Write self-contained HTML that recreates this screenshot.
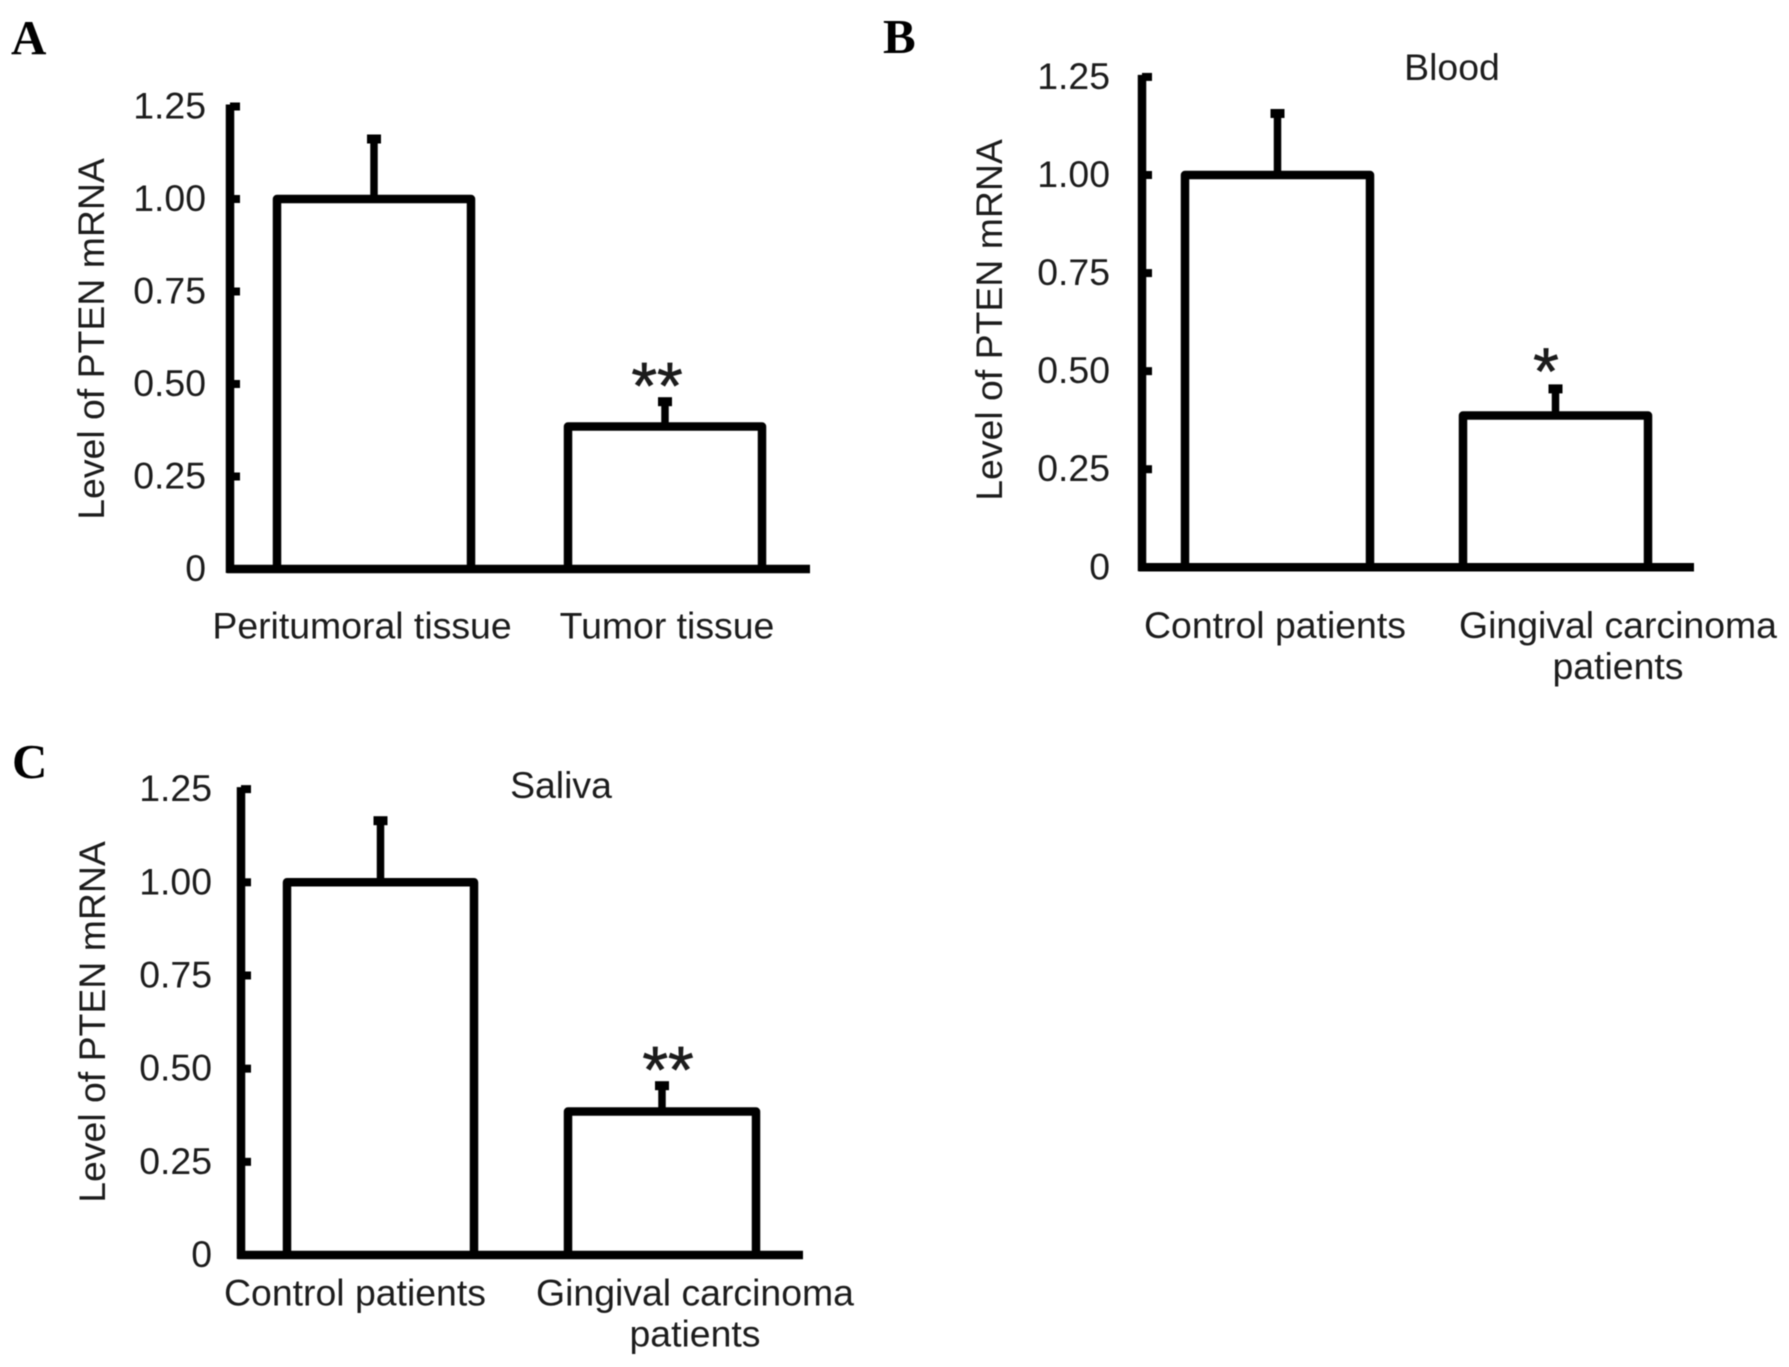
<!DOCTYPE html>
<html>
<head>
<meta charset="utf-8">
<title>Level of PTEN mRNA</title>
<style>
html,body{margin:0;padding:0;background:#fff;}
svg{display:block;}
text{font-family:"Liberation Sans",sans-serif;fill:#1c1c1c;font-size:37.4px;}
.letter{font-family:"Liberation Serif",serif;font-weight:bold;font-size:49px;fill:#000;}
.star{font-size:66px;stroke:#1c1c1c;stroke-width:0.7px;}
</style>
</head>
<body>
<svg id="fig" width="1789" height="1367" viewBox="0 0 1789 1367" xmlns="http://www.w3.org/2000/svg">
<g style="filter:blur(0.6px)" id="root"></g>
</svg>
<script>
const tickValues = [0, 0.25, 0.5, 0.75, 1, 1.25];
const tickLabels = ["0", "0.25", "0.50", "0.75", "1.00", "1.25"];
const yAxisTitle = "Level of PTEN mRNA";

const categoriesA = ["Peritumoral tissue", "Tumor tissue"];
const valuesA = [1.0, 0.385];
const errorsA = [0.173, 0.078];
const starsA = ["", "**"];

const categoriesB = ["Control patients", "Gingival carcinoma\npatients"];
const valuesB = [1.0, 0.387];
const errorsB = [0.167, 0.078];
const starsB = ["", "*"];

const categoriesC = ["Control patients", "Gingival carcinoma\npatients"];
const valuesC = [1.0, 0.385];
const errorsC = [0.176, 0.08];
const starsC = ["", "**"];

const NS = "http://www.w3.org/2000/svg";
const root = document.getElementById("root");

function mk(parent, tag, attrs, txt) {
  const e = document.createElementNS(NS, tag);
  for (const k in attrs) e.setAttribute(k, attrs[k]);
  if (txt !== undefined) e.textContent = txt;
  parent.appendChild(e);
  return e;
}

function drawPanel(p, categories, values, errors, stars) {
  const y = v => p.y0 + (p.y100 - p.y0) * v;
  const g = mk(root, "g", {});
  
  

  const letter = mk(g, "text", {x: p.lx, y: p.ly, class: "letter"}, p.id);
  
  

  if (p.title) {
    const t = mk(g, "text", {x: p.tx, y: p.ty, "text-anchor": "middle"}, p.title);
    
    
  }

  const yt = mk(g, "text", {transform: "translate(" + p.ytx + "," + p.yty + ") rotate(-90)", "text-anchor": "middle"}, yAxisTitle);
  
  

  tickValues.forEach((v, i) => {
    const tk = mk(g, "line", {x1: p.ax, x2: p.ax + 10, y1: y(v), y2: y(v), stroke: "#000", "stroke-width": 8});
    
    
    const lb = mk(g, "text", {x: p.tlx, y: y(v) + 12, "text-anchor": "end"}, tickLabels[i]);
    
    
  });

  categories.forEach((c, i) => {
    const cx = (p.bars[i].l + p.bars[i].r) / 2;
    const bar = mk(g, "path", {
      d: "M" + p.bars[i].l + " " + p.y0 + "V" + y(values[i]) + "H" + p.bars[i].r + "V" + p.y0,
      fill: "#fff", stroke: "#000", "stroke-width": 8.5, "stroke-linejoin": "round"
    });
    
    

    const top = y(values[i] + errors[i]);
    const stem = mk(g, "line", {x1: cx, x2: cx, y1: y(values[i]), y2: top + 4, stroke: "#000", "stroke-width": 7.5});
    
    
    const cap = mk(g, "line", {x1: cx - 7, x2: cx + 7, y1: top + 4, y2: top + 4, stroke: "#000", "stroke-width": 9});
    
    

    if (stars[i]) {
      const s = mk(g, "text", {x: cx + p.starDx, y: top + p.starDy, "text-anchor": "middle", class: "star"}, stars[i]);
      
      
    }

    c.split("\n").forEach((line, j) => {
      const t = mk(g, "text", {x: p.catX[i], y: p.catY + j * 41, "text-anchor": "middle"}, line);
      
      
    });
  });

  const yAxis = mk(g, "line", {x1: p.ax, x2: p.ax, y1: y(1.25) - 2, y2: p.y0 + 4, stroke: "#000", "stroke-width": 8.5});
  
  
  const xAxis = mk(g, "line", {x1: p.ax - 3, x2: p.axEnd, y1: p.y0, y2: p.y0, stroke: "#000", "stroke-width": 8.5});
  
  
}

drawPanel({id: "A", lx: 11, ly: 54, ax: 230, y0: 569, y100: 199, axEnd: 810, tlx: 206, ytx: 104, yty: 339,
  bars: [{l: 277, r: 471}, {l: 568, r: 762}], catX: [362, 667], catY: 638.5, starDx: -8, starDy: 11}, categoriesA, valuesA, errorsA, starsA);

drawPanel({id: "B", lx: 883, ly: 53, ax: 1142, y0: 567.3, y100: 175, axEnd: 1694, tlx: 1110, ytx: 1002, yty: 320,
  title: "Blood", tx: 1452, ty: 80,
  bars: [{l: 1185, r: 1370}, {l: 1463, r: 1648}], catX: [1275, 1618], catY: 638, starDx: -9.5, starDy: 9}, categoriesB, valuesB, errorsB, starsB);

drawPanel({id: "C", lx: 12, ly: 778, ax: 241, y0: 1255, y100: 882.3, axEnd: 803, tlx: 212, ytx: 105, yty: 1022,
  title: "Saliva", tx: 561, ty: 798,
  bars: [{l: 287, r: 474}, {l: 568, r: 756}], catX: [355, 695], catY: 1305.5, starDx: 6, starDy: 11}, categoriesC, valuesC, errorsC, starsC);
</script>
</body>
</html>
